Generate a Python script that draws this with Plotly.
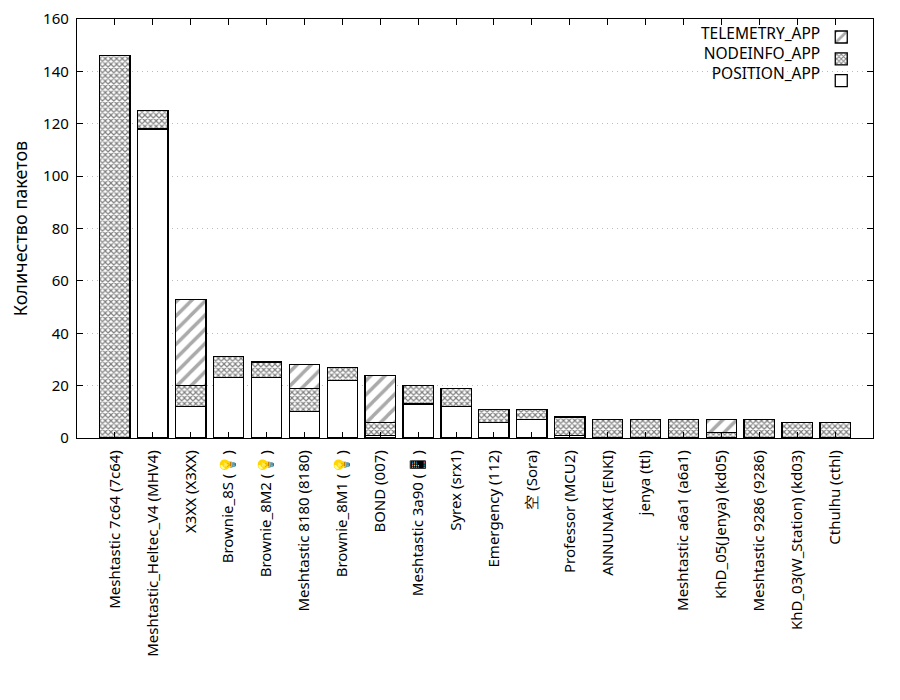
import plotly.graph_objects as go

names = [
    'Meshtastic 7c64 (7c64)', 'Meshtastic_Heltec_V4 (MHV4)', 'X3XX (X3XX)',
    'Brownie_8S (💡)', 'Brownie_8M2 (💡)', 'Meshtastic 8180 (8180)',
    'Brownie_8M1 (💡)', 'BOND (007)', 'Meshtastic 3a90 (📱)', 'Syrex (srx1)',
    'Emergency (112)', '空 (Sora)', 'Professor (MCU2)', 'ANNUNAKI (ENKI)',
    'jenya (ttl)', 'Meshtastic a6a1 (a6a1)', 'KhD_05(Jenya) (kd05)',
    'Meshtastic 9286 (9286)', 'KhD_03(W_Station) (kd03)', 'Cthulhu (cthl)',
]
position = [0, 118, 12, 23, 23, 10, 22, 1, 13, 12, 6, 7, 1, 0, 0, 0, 0, 0, 0, 0]
nodeinfo = [146, 7, 8, 8, 6, 9, 5, 5, 7, 7, 5, 4, 7, 7, 7, 7, 2, 7, 6, 6]
telemetry = [0, 0, 33, 0, 0, 9, 0, 18, 0, 0, 0, 0, 0, 0, 0, 0, 5, 0, 0, 0]
series_names = ['POSITION_APP', 'NODEINFO_APP', 'TELEMETRY_APP']

FONT = 'Noto Sans'
x = list(range(len(names)))
edge = dict(color='black', width=1.3)


def nz(vals):
    # empty segments would otherwise draw a flat outline
    return [v if v else None for v in vals]


fig = go.Figure()
fig.add_trace(go.Bar(
    x=x, y=nz(position), name=' ',
    marker=dict(color='white', line=edge),
))
fig.add_trace(go.Bar(
    x=x, y=nz(nodeinfo), name=' ',
    marker=dict(color='white', line=edge,
                pattern=dict(shape='x', fgcolor='black', bgcolor='white',
                             size=4, solidity=0.5)),
))
fig.add_trace(go.Bar(
    x=x, y=nz(telemetry), name=' ',
    marker=dict(color='white', line=edge,
                pattern=dict(shape='/', fgcolor='#555555', bgcolor='white',
                             size=10, solidity=0.35)),
))

# legend text sits to the left of the swatches, right aligned (gnuplot style)
fig.add_annotation(
    text='<br>'.join(reversed(series_names)), xref='paper', yref='paper',
    x=0.936, y=0.920, xanchor='right', yanchor='middle', align='right',
    showarrow=False, font=dict(size=15.5),
)

# page body has an 8px margin, so the figure is made 8px smaller
fig.update_layout(
    barmode='stack', bargap=0.2,
    width=892, height=692,
    margin=dict(l=69, r=27, t=11, b=262),
    paper_bgcolor='white', plot_bgcolor='white',
    font=dict(family=FONT, size=15, color='black'),
    legend=dict(x=0.935, y=0.995, xanchor='left', yanchor='top',
                traceorder='reversed', bgcolor='rgba(0,0,0,0)',
                font=dict(size=14.5), itemwidth=30, tracegroupgap=0),
)
fig.update_xaxes(
    range=[-1, 20], tickmode='array', tickvals=x, ticktext=names,
    tickangle=-90, ticks='inside', ticklen=6, tickcolor='black',
    ticklabelstandoff=5,
    showline=True, linecolor='black', linewidth=1.3, mirror='ticks',
    showgrid=False, zeroline=False, automargin=False,
)
fig.update_yaxes(
    range=[0, 160], dtick=20, ticks='inside', ticklen=6, tickcolor='black',
    ticklabelstandoff=4,
    showline=True, linecolor='black', linewidth=1.3, mirror='ticks',
    showgrid=True, gridcolor='#bbbbbb', griddash='1px,4px', gridwidth=1,
    zeroline=False, automargin=False,
    title=dict(text='Количество пакетов', standoff=17),
)

fig.write_html('out.html')
